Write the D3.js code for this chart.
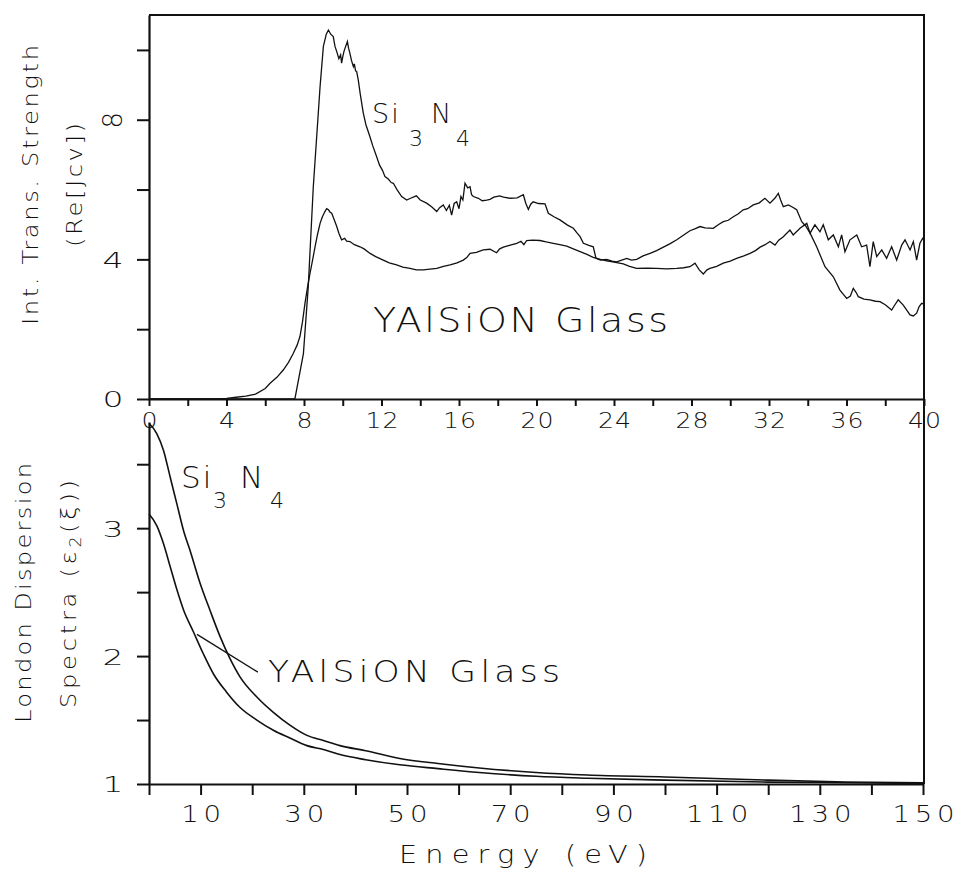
<!DOCTYPE html>
<html>
<head>
<meta charset="utf-8">
<script src="https://cdn.jsdelivr.net/npm/d3@7"></script>
<style>
body { margin: 0; background: #fff; }
svg text { font-family: "DejaVu Sans", "Open Sans", sans-serif; font-weight: 200; fill: #111; }
.axis path, .axis line, .frame { stroke: #111; stroke-width: 2; fill: none; }
.curve { fill: none; stroke: #111; }
</style>
</head>
<body>
<svg width="964" height="871"></svg>
<script>
// top panel: interband transition strength Re[Jcv] vs energy (eV)
const si3n4Jcv = [[0,0],[7.5,0],[7.54,0.03],[7.97,1.3],[8.22,3.22],[8.48,6.08],[8.83,8.95],[9.0,10.1],[9.15,10.45],[9.26,10.57],[9.38,10.45],[9.51,10.38],[9.6,10.1],[9.69,9.95],[9.8,9.75],[9.89,9.86],[9.94,9.62],[10.0,9.8],[10.06,9.95],[10.15,10.1],[10.24,10.24],[10.3,10.05],[10.37,9.9],[10.45,9.7],[10.55,9.52],[10.6,9.6],[10.66,9.4],[10.72,9.38],[10.8,9.14],[10.9,8.75],[11.06,8.19],[11.2,7.85],[11.4,7.52],[11.55,7.25],[11.75,6.94],[11.9,6.7],[12.05,6.55],[12.18,6.37],[12.35,6.3],[12.5,6.2],[12.61,6.18],[12.8,6.0],[13.04,5.8],[13.3,5.7],[13.5,5.75],[13.8,5.82],[14.0,5.7],[14.33,5.61],[14.6,5.5],[14.85,5.37],[15.0,5.48],[15.19,5.56],[15.35,5.4],[15.5,5.55],[15.62,5.27],[15.75,5.6],[15.88,5.65],[16.0,5.45],[16.1,5.8],[16.2,5.7],[16.31,6.18],[16.45,6.05],[16.57,6.08],[16.65,5.85],[16.74,5.8],[17.0,5.75],[17.2,5.68],[17.43,5.7],[17.6,5.72],[17.8,5.78],[18.1,5.82],[18.3,5.78],[18.63,5.75],[19.0,5.76],[19.32,5.85],[19.45,5.6],[19.58,5.43],[19.7,5.58],[19.83,5.65],[20.1,5.6],[20.44,5.59],[20.61,5.32],[20.9,5.22],[21.21,5.13],[21.6,4.98],[21.9,4.89],[22.1,4.75],[22.25,4.65],[22.42,4.46],[22.7,4.4],[22.93,4.36],[23.07,4.03],[23.3,3.98],[23.62,4.0],[23.9,3.95],[24.14,3.93],[24.4,3.98],[24.66,4.03],[24.9,3.98],[25.17,4.0],[25.5,4.1],[25.86,4.17],[26.2,4.25],[26.55,4.35],[26.9,4.45],[27.24,4.56],[27.6,4.7],[27.92,4.82],[28.2,4.88],[28.44,4.94],[28.7,4.9],[29.12,4.89],[29.4,5.0],[29.64,5.08],[29.9,5.12],[30.16,5.22],[30.4,5.3],[30.67,5.42],[30.9,5.45],[31.19,5.56],[31.5,5.62],[31.79,5.75],[32.05,5.61],[32.3,5.75],[32.48,5.89],[32.6,5.7],[32.74,5.51],[33.0,5.56],[33.2,5.5],[33.43,5.42],[33.69,5.08],[33.9,4.95],[34.12,4.75],[34.46,4.36],[34.89,3.79],[35.32,3.5],[35.66,3.12],[36.01,2.88],[36.2,2.95],[36.35,3.17],[36.5,3.05],[36.61,2.93],[36.9,2.86],[37.21,2.84],[37.5,2.8],[37.73,2.79],[38.0,2.7],[38.33,2.55],[38.5,2.7],[38.67,2.84],[38.93,2.69],[39.1,2.55],[39.28,2.41],[39.45,2.38],[39.62,2.46],[39.75,2.65],[39.88,2.74],[40,2.72]];

const yalsionJcv = [[0,0],[3.5,0],[4.0,0.02],[4.5,0.05],[5.0,0.08],[5.5,0.14],[6.0,0.3],[6.25,0.45],[6.6,0.62],[6.93,0.83],[7.2,1.05],[7.45,1.31],[7.65,1.55],[7.79,1.79],[7.92,2.2],[8.05,2.74],[8.18,3.2],[8.31,3.6],[8.45,4.0],[8.57,4.36],[8.7,4.72],[8.83,5.03],[8.95,5.22],[9.08,5.37],[9.17,5.45],[9.26,5.42],[9.35,5.35],[9.43,5.32],[9.55,5.15],[9.69,4.94],[9.8,4.75],[9.94,4.56],[10.1,4.6],[10.2,4.52],[10.37,4.51],[10.6,4.42],[10.89,4.36],[11.1,4.3],[11.41,4.17],[11.7,4.08],[12.09,3.98],[12.4,3.9],[12.78,3.84],[13.1,3.78],[13.47,3.74],[13.8,3.7],[14.16,3.7],[14.5,3.72],[14.85,3.74],[15.2,3.8],[15.54,3.84],[15.9,3.9],[16.22,3.98],[16.4,4.05],[16.57,4.17],[16.9,4.2],[17.25,4.27],[17.6,4.29],[17.94,4.19],[18.1,4.3],[18.29,4.35],[18.6,4.4],[18.98,4.46],[19.2,4.52],[19.35,4.42],[19.49,4.54],[19.8,4.55],[20.18,4.54],[20.5,4.5],[20.87,4.46],[21.2,4.42],[21.56,4.38],[21.9,4.3],[22.25,4.22],[22.6,4.14],[22.93,4.06],[23.3,4.0],[23.62,3.96],[24.0,3.92],[24.48,3.87],[24.8,3.8],[25.17,3.74],[25.7,3.75],[26.2,3.74],[26.7,3.73],[27.24,3.74],[27.6,3.76],[27.92,3.79],[28.18,3.89],[28.4,3.7],[28.61,3.58],[28.8,3.7],[28.95,3.74],[29.3,3.8],[29.64,3.89],[30.0,3.95],[30.33,4.03],[30.7,4.1],[31.02,4.17],[31.3,4.25],[31.54,4.35],[31.8,4.42],[32.05,4.51],[32.31,4.41],[32.5,4.55],[32.74,4.65],[33.08,4.84],[33.25,4.7],[33.6,4.89],[33.95,5.03],[34.12,4.75],[34.37,4.99],[34.63,4.79],[34.8,4.99],[35.06,4.56],[35.32,4.7],[35.58,4.36],[35.75,4.7],[35.92,4.22],[36.18,4.56],[36.53,4.7],[36.78,4.36],[37.04,4.41],[37.21,3.79],[37.38,4.51],[37.56,4.08],[37.82,4.27],[38.07,4.03],[38.33,4.36],[38.59,3.98],[38.85,4.41],[39.02,4.56],[39.28,4.27],[39.45,4.51],[39.62,3.98],[39.79,4.46],[39.93,4.6],[40,4.55]];

// bottom panel: London dispersion spectra eps2(i xi) vs energy (eV)
const si3n4Lds = [[0,3.82],[1.5,3.74],[2.8,3.61],[4.1,3.4],[5.4,3.19],[6.7,2.98],[8,2.82],[9.9,2.57],[11.8,2.36],[13.8,2.15],[15.7,1.98],[17.6,1.84],[20.9,1.68],[24.1,1.56],[27.3,1.46],[30.6,1.38],[33.8,1.34],[37,1.3],[42,1.26],[48.6,1.2],[56,1.16],[64,1.125],[75,1.09],[85,1.07],[100,1.055],[120,1.03],[135,1.016],[150,1.01]];
const yalsionLds = [[0,3.11],[1.5,3.02],[2.8,2.88],[4.1,2.7],[5.4,2.52],[6.7,2.36],[8.6,2.19],[10.5,2.02],[12.5,1.86],[15,1.72],[17.6,1.6],[20.9,1.5],[24.1,1.42],[27.3,1.36],[30.6,1.3],[33.8,1.27],[37,1.23],[42,1.19],[48.6,1.15],[56,1.12],[64,1.09],[75,1.06],[85,1.045],[100,1.03],[120,1.015],[135,1.01],[150,1.005]];
const leader = [[9.3,2.17],[21.1,1.875]];

const topXTicks = d3.range(0, 41, 2);
const topXLabels = [0, 4, 8, 12, 16, 20, 24, 28, 32, 36, 40];
const topYTicks = [0, 2, 4, 6, 8, 10];
const topYLabels = [0, 4, 8];
const botXTicks = d3.range(0, 151, 10);
const botXLabels = [10, 30, 50, 70, 90, 110, 130, 150];
const botYTicks = [1, 1.5, 2, 2.5, 3, 3.5];
const botYLabels = [1, 2, 3];

const svg = d3.select("svg");

const x = d3.scaleLinear().domain([0, 40]).range([149, 924]);
const y = d3.scaleLinear().domain([0, 11]).range([399, 15]);
const xb = d3.scaleLinear().domain([0, 150]).range([149, 923]);
const yb = d3.scaleLinear().domain([1, 3.83]).range([784, 422]);

// frame: top edge and the right edge running through both panels
svg.append("path").attr("class", "frame")
    .attr("d", `M${x(0)},${y(11)}H${x(40)}V${yb(1)}`);

const fmt = labels => d => labels.includes(d) ? d : "";

// the plotter font is wide, so glyphs get a horizontal stretch
const gxTop = svg.append("g").attr("class", "axis")
    .attr("transform", `translate(0,${y(0)})`)
    .call(d3.axisBottom(x).tickValues(topXTicks).tickSize(7).tickSizeOuter(0)
          .tickPadding(7).tickFormat(fmt(topXLabels)));
gxTop.selectAll("text").style("font-size", "21px").style("letter-spacing", "1px")
    .attr("dx", 0.5).attr("transform", "scale(1.2,1)");

const gyTop = svg.append("g").attr("class", "axis")
    .attr("transform", `translate(${x(0)},0)`)
    .call(d3.axisLeft(y).tickValues(topYTicks).tickSize(12).tickSizeOuter(0)
          .tickFormat(fmt(topYLabels)));
gyTop.selectAll("text").each(function() {
    const t = d3.select(this)
        .attr("text-anchor", "middle").attr("x", 0).attr("dy", "0.36em");
    if (this.textContent === "8") {
        // the 8 is printed lying on its side in the original
        t.style("font-size", "26px").attr("transform", "translate(-36,0) rotate(-90)");
    } else {
        t.style("font-size", "22px").attr("transform", "translate(-36,0) scale(1.5,1)");
    }
});

const gxBot = svg.append("g").attr("class", "axis")
    .attr("transform", `translate(0,${yb(1)})`)
    .call(d3.axisBottom(xb).tickValues(botXTicks).tickSize(11).tickSizeOuter(0)
          .tickPadding(11).tickFormat(fmt(botXLabels)));
gxBot.selectAll("text").style("font-size", "23px").style("letter-spacing", "4px")
    .attr("dx", 2).attr("transform", "scale(1.2,1)");

const gyBot = svg.append("g").attr("class", "axis")
    .attr("transform", `translate(${xb(0)},0)`)
    .call(d3.axisLeft(yb).tickValues(botYTicks).tickSize(12).tickSizeOuter(0)
          .tickFormat(fmt(botYLabels)));
gyBot.selectAll("text").style("font-size", "22px")
    .attr("text-anchor", "middle").attr("x", 0).attr("dy", "0.36em")
    .attr("transform", "translate(-36,0) scale(1.5,1)");

svg.selectAll(".axis .domain").style("stroke-width", 2.2);

// curves
const lineTop = d3.line().x(d => x(d[0])).y(d => y(d[1]));
const lineBot = d3.line().x(d => xb(d[0])).y(d => yb(d[1])).curve(d3.curveMonotoneX);

svg.append("g").selectAll("path")
    .data([si3n4Jcv, yalsionJcv]).enter()
    .append("path").attr("class", "curve")
    .attr("stroke-width", 1.3)
    .attr("d", lineTop);

svg.append("g").selectAll("path")
    .data([si3n4Lds, yalsionLds]).enter()
    .append("path").attr("class", "curve")
    .attr("stroke-width", 1.6)
    .attr("d", lineBot);

svg.append("path").attr("class", "curve").attr("stroke-width", 1.3)
    .attr("d", d3.line().x(d => xb(d[0])).y(d => yb(d[1]))(leader));

// labels
const sx = 1.15;
const stretched = (tx, ty, rot, size, len) => {
    const t = svg.append("text")
        .attr("transform", `translate(${tx},${ty}) rotate(${rot}) scale(${sx},1)`)
        .style("font-size", size + "px");
    if (len) t.attr("textLength", len / sx).attr("lengthAdjust", "spacing");
    return t;
};

const formula = (xs, yBase, big, small, drop) => {
    const t = svg.append("text");
    t.append("tspan").attr("x", xs[0]).attr("y", yBase).style("font-size", big + "px")
        .style("letter-spacing", "2px").text("Si");
    t.append("tspan").attr("x", xs[1]).attr("y", yBase + drop).style("font-size", small + "px").text("3");
    t.append("tspan").attr("x", xs[2]).attr("y", yBase).style("font-size", big + "px").text("N");
    t.append("tspan").attr("x", xs[3]).attr("y", yBase + drop).style("font-size", small + "px").text("4");
};
formula([372, 409, 431, 456], 123, 27, 22, 23);
formula([181, 213, 240, 270], 488, 31, 22, 20);

stretched(373, 332, 0, 33, 295).text("YAlSiON Glass");
stretched(268, 682, 0, 30, 292).text("YAlSiON Glass");
stretched(399, 863, 0, 25, 248).text("Energy (eV)");

const yTitle = (cx, cy, len, size) => stretched(cx, cy, -90, size, len)
    .attr("text-anchor", "middle");

yTitle(38, 185, 280, 21).text("Int. Trans. Strength");
yTitle(82, 185, 124, 21).text("(Re[Jcv])");
yTitle(31, 593, 260, 21).text("London Dispersion");

const spec = yTitle(76, 594, 228, 21);
spec.append("tspan").text("Spectra (ε");
spec.append("tspan").attr("dy", 5).style("font-size", "15px").text("2");
spec.append("tspan").attr("dy", -5).text("(ξ))");
</script>
</body>
</html>
